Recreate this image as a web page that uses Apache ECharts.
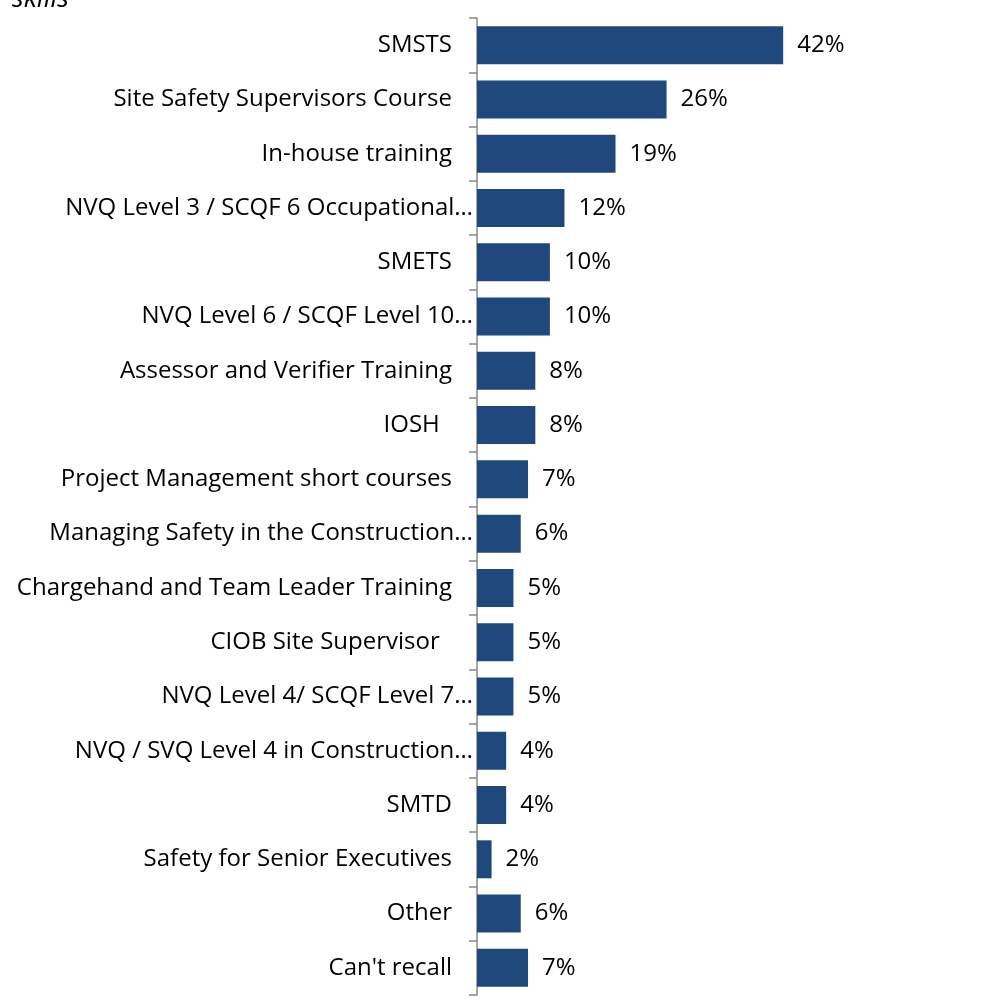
<!DOCTYPE html>
<html><head><meta charset="utf-8">
<script src="https://cdn.jsdelivr.net/npm/echarts@6/dist/echarts.min.js"></script>
<style>html,body{margin:0;padding:0;background:#fff}#c{width:986px;height:1003px}</style>
</head><body><div id="c"></div>
<script>
const categories = ["SMSTS","Site Safety Supervisors Course","In-house training","NVQ Level 3 / SCQF 6 Occupational…","SMETS","NVQ Level 6 / SCQF Level 10…","Assessor and Verifier Training","IOSH ","Project Management short courses","Managing Safety in the Construction…","Chargehand and Team Leader Training","CIOB Site Supervisor ","NVQ Level 4/ SCQF Level 7…","NVQ / SVQ Level 4 in Construction…","SMTD","Safety for Senior Executives","Other","Can't recall"];
const values = [42,26,19,12,10,10,8,8,7,6,5,5,5,4,4,2,6,7];

const chart = echarts.init(document.getElementById('c'));
const font = '"Open Sans", Lato, sans-serif';
const catData = categories.map(c => ({
  value: c,
  textStyle: { padding: c.endsWith('…') ? [0, 0, 0, 0] : [0, c.endsWith(' ') ? 27 : 21, 0, 0] }
}));
chart.setOption({
  animation: false,
  graphic: [{ type: 'text', left: 12, top: -14, style: { text: 'skills', font: 'italic 27px ' + font, fill: '#000' } }],
  grid: { left: 477, top: 18, bottom: 8, right: 144.5, containLabel: false },
  xAxis: { type: 'value', min: 0, max: 50, show: false },
  yAxis: {
    type: 'category', inverse: true, data: catData,
    axisLine: { lineStyle: { color: '#888', width: 1.5 } },
    axisTick: { show: true, length: 8, lineStyle: { color: '#888', width: 1.5 } },
    axisLabel: { margin: 4, fontSize: 24, color: '#000', fontFamily: font }
  },
  series: [{
    type: 'bar', data: values, barCategoryGap: '30%',
    itemStyle: { color: '#1F497D' },
    label: { show: true, position: 'right', distance: 14, formatter: '{c}%', fontSize: 24, color: '#000', fontFamily: font }
  }]
});
</script></body></html>
